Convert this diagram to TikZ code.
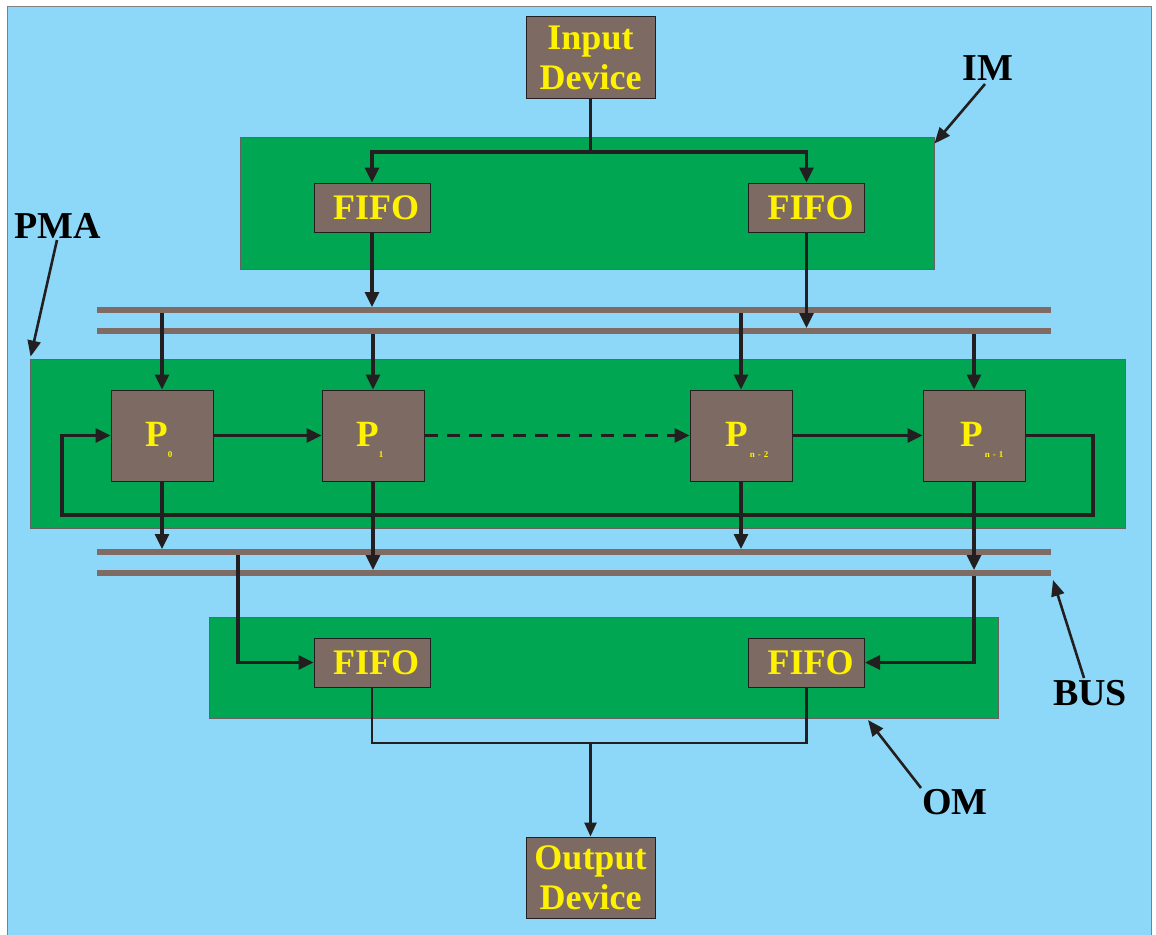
\documentclass[tikz,border=0pt]{standalone}
\usepackage{fontspec}
\setmainfont{Liberation Serif}
\usetikzlibrary{arrows.meta,calc}
\definecolor{skyb}{HTML}{8DD8F8}
\definecolor{grn}{HTML}{00A651}
\definecolor{boxc}{HTML}{7D6A63}
\definecolor{ylw}{HTML}{FFF200}
\definecolor{busc}{HTML}{7F6A64}
\definecolor{ink}{HTML}{231F20}
\begin{document}
\begin{tikzpicture}[x=1pt,y=-1pt,
  unit/.style={draw=ink, line width=1pt, fill=boxc, text=ylw, font=\fontsize{36}{40}\selectfont\bfseries, inner sep=0pt, align=center},
  fifo/.style={unit, minimum width=116pt, minimum height=49pt},
  proc/.style={unit, minimum width=102pt, minimum height=91pt},
  dev/.style={unit, minimum width=129pt, minimum height=81pt},
  plet/.style={text=ylw, font=\fontsize{37}{40}\selectfont\bfseries, inner sep=0pt},
  psub/.style={text=ylw, font=\fontsize{9}{9}\selectfont\bfseries, inner sep=0pt},
  zone/.style={draw=ink!70, line width=0.8pt, fill=grn, inner sep=0pt},
  bus/.style={busc, line width=6.5pt},
  wire/.style={ink, line width=3.2pt},
  thinwire/.style={ink, line width=2.6pt},
  link/.style={ink, line width=3.2pt, -{Triangle[length=15pt,width=14pt]}},
  thinlink/.style={ink, line width=2.6pt, -{Triangle[length=14pt,width=12pt]}},
  callout/.style={ink, line width=2.6pt, -{Triangle[length=16pt,width=13pt]}},
  tag/.style={text=black, font=\fontsize{38}{40}\selectfont\bfseries, inner sep=0pt}
]
\useasboundingbox (0,0) rectangle (1156,934);
\fill[white] (0,0) rectangle (1156,934);
\draw[gray, line width=1pt, fill=skyb] (7,7) rectangle (1151,945);

% zones
\node[zone, minimum width=694pt, minimum height=132pt] (imz) at (587,203) {};
\node[zone, minimum width=1095pt, minimum height=169pt] (pmaz) at (577.5,443.5) {};
\node[zone, minimum width=789pt, minimum height=101pt] (omz) at (603.5,667.5) {};

% buses
\coordinate (b1) at (97,310); \coordinate (b1e) at (1051,310);
\coordinate (b2) at (97,331); \coordinate (b2e) at (1051,331);
\coordinate (b3) at (97,552); \coordinate (b3e) at (1051,552);
\coordinate (b4) at (97,573); \coordinate (b4e) at (1051,573);
\draw[bus] (b1) -- (b1e);
\draw[bus] (b2) -- (b2e);
\draw[bus] (b3) -- (b3e);
\draw[bus] (b4) -- (b4e);

% devices and units
\node[dev] (indev) at (590.5,57.5) {Input\\Device};
\node[dev] (outdev) at (590.5,877.5) {Output\\Device};
\node[fifo] (f1) at (372,207.5) {\hspace*{8pt}FIFO};
\node[fifo] (f2) at (806.5,207.5) {\hspace*{8pt}FIFO};
\node[fifo] (f3) at (372,662.5) {\hspace*{8pt}FIFO};
\node[fifo] (f4) at (806.5,662.5) {\hspace*{8pt}FIFO};

\node[proc] (p0) at (162,435.5) {};
\node[proc] (p1) at (373,435.5) {};
\node[proc] (p2) at (741,435.5) {};
\node[proc] (p3) at (974,435.5) {};
\node[plet] (p0t) at (157,434) {P};
\node[plet] (p1t) at (368,434) {P};
\node[plet] (p2t) at (737,434) {P};
\node[plet] (p3t) at (972,434) {P};
\node[psub] (p0s) at (170,455) {0};
\node[psub] (p1s) at (381,455) {1};
\node[psub] (p2s) at (759,455) {n\,\,-\,\,2};
\node[psub] (p3s) at (994,455) {n\,\,-\,\,1};

% input distribution
\coordinate (split) at (590.5,152);
\draw[wire] (indev.south) -- (split);
\draw[link] (split) -| (f1.north);
\draw[link] (split) -| (f2.north);

% IM fifos to bus
\draw[link] (f1.south) -- ($(f1.south |- b1)+(0,-3)$);
\draw[link] (f2.south) -- ($(f2.south |- b2)+(0,-3)$);

% bus to processors
\draw[link] ($(p0.north |- b1)+(0,3)$) -- (p0.north);
\draw[link] ($(p1.north |- b2)+(0,3)$) -- (p1.north);
\draw[link] ($(p2.north |- b1)+(0,3)$) -- (p2.north);
\draw[link] ($(p3.north |- b2)+(0,3)$) -- (p3.north);

% processor chain
\draw[link] (p0.east) -- (p1.west);
\draw[link, dash pattern=on 13pt off 9pt] (p1.east) -- (p2.west);
\draw[link] (p2.east) -- (p3.west);
\coordinate (lr) at (1093,515);
\coordinate (ll) at (62,435.5);
\draw[link] (p3.east) -| (lr) -| (ll) -- (p0.west);

% processors to bus
\draw[link] (p0.south) -- ($(p0.south |- b3)+(0,-3)$);
\draw[link] (p1.south) -- ($(p1.south |- b4)+(0,-3)$);
\draw[link] (p2.south) -- ($(p2.south |- b3)+(0,-3)$);
\draw[link] (p3.south) -- ($(p3.south |- b4)+(0,-3)$);

% bus to OM fifos
\coordinate (tap) at (238,555);
\draw[link] (tap) |- (f3.west);
\draw[link] ($(p3.south |- b4)+(0,3)$) |- (f4.east);

% OM to output
\coordinate (j1) at (372,743);
\draw[thinwire] (f3.south) -- (j1) -| (f4.south);
\draw[thinlink] (outdev.north |- j1) -- (outdev.north);

% tags
\node[tag] (imt) at (988,68) {IM};
\node[tag] (pmat) at (58,226) {PMA};
\node[tag] (bust) at (1090,693) {BUS};
\node[tag] (omt) at (955,802) {OM};
\coordinate (busend) at (1053,580);
\coordinate (omend) at (868,720);
\draw[callout] (985,84) -- ([yshift=-7pt]imz.north east);
\draw[callout] (57,240) -- ([shift={(1pt,2pt)}]pmaz.north west);
\draw[callout] (1084,678) -- (busend);
\draw[callout] (921,788) -- (omend);
\end{tikzpicture}
\end{document}
